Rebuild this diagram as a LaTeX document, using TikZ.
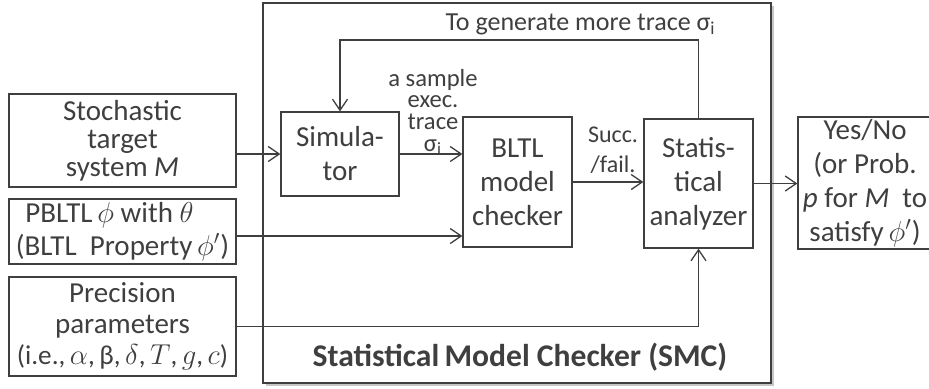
\documentclass[tikz,border=0pt]{standalone}
\usepackage{fontspec}
\setmainfont{Carlito}
\usetikzlibrary{arrows.meta,shadows}
\definecolor{ink}{HTML}{3F3F3F}
\tikzset{
  box/.style={draw=ink, line width=0.65pt, inner sep=0pt, align=center, text=ink,
    font=\fontsize{14.5}{17}\selectfont},
  leftbox/.style={box, minimum width=113.5pt, font=\fontsize{14.5}{14}\selectfont},
  note/.style={text=ink, align=center, inner sep=0pt},
  arr/.style={draw=ink, line width=0.65pt, -{Straight Barb[length=5.5pt,width=7.5pt]}}
}
\begin{document}
\begin{tikzpicture}[x=0.5pt, y=-0.5pt]
\useasboundingbox (0,0) rectangle (929,388);
\clip (0,0) rectangle (929,388);

% outer frame of the statistical model checker
\node[draw=ink, line width=1.4pt, fill=white, minimum width=254pt, minimum height=190pt,
  drop shadow={shadow xshift=1.3pt, shadow yshift=-1.3pt, opacity=0.45}] (smc) at (517,193) {};
\node[note, font=\fontsize{15.8}{18}\bfseries] (smclabel) at (520,357) {Statistical\,Model Checker (SMC)};

% inputs
\node[leftbox, minimum height=46.5pt] (sys) at (122.5,140.5) {Stochastic\\target\\system \textit{M}};
\node[leftbox, minimum height=32.5pt, font=\fontsize{14.5}{16.5}\selectfont] (prop) at (122.5,231.5)
  {PBLTL\,$\phi$ with $\theta$\hspace*{13pt}\\(BLTL~ Property\,$\phi'$)};
\node[leftbox, minimum height=49.5pt, font=\fontsize{14.5}{15.5}\selectfont] (prec) at (122.5,326.5)
  {Precision\\parameters\\{\fontsize{13.6}{15.5}\selectfont(i.e.,\,$\alpha$,\,β,\,$\delta$,\,$T$,\,$g$,\,$c$)}};

% inner components
\node[box, minimum width=59pt, minimum height=42pt] (sim) at (340,154) {Simula-\\tor};
\node[box, minimum width=54.5pt, minimum height=65pt] (mc) at (517.5,182) {BLTL\\model\\checker};
\node[box, minimum width=54.5pt, minimum height=64.5pt] (ana) at (698.5,183.5)
  {Statis-\\tical\\analyzer};

% result
\node[box, minimum width=67pt, minimum height=66pt] (out) at (865,183)
  {Yes/No\\(or Prob.\\\textit{p} for \textit{M}~ to\\satisfy\,$\phi'$)};

% connectors
\coordinate (propy) at (0,236);
\coordinate (loop) at (0,40);
\draw[arr] (sys.east |- sim.west) -- (sim.west);
\draw[arr] (prop.east |- propy) -- (mc.west |- propy);
\draw[arr] (prec.east) -| (ana.south);
\draw[arr] (sim.east) -- (sim.east -| mc.west);
\draw[arr] (mc.east) -- (mc.east -| ana.west);
\draw[arr] (ana.east) -- (ana.east -| out.west);
\draw[arr] (ana.north) |- (loop -| sim.north) -- (sim.north);

% connector labels
\node[note, font=\fontsize{13}{15}\selectfont, anchor=east] (more) at (716,24)
  {To generate more trace σ\textsubscript{i}};
\node[note, font=\fontsize{12.3}{10.8}\selectfont] (sample) at (433,112)
  {a sample\\exec.\\trace\\σ\textsubscript{i}};
\node[note, font=\fontsize{12}{15}\selectfont] (succ) at (613,150) {Succ.\\/fail.};
\end{tikzpicture}
\end{document}
